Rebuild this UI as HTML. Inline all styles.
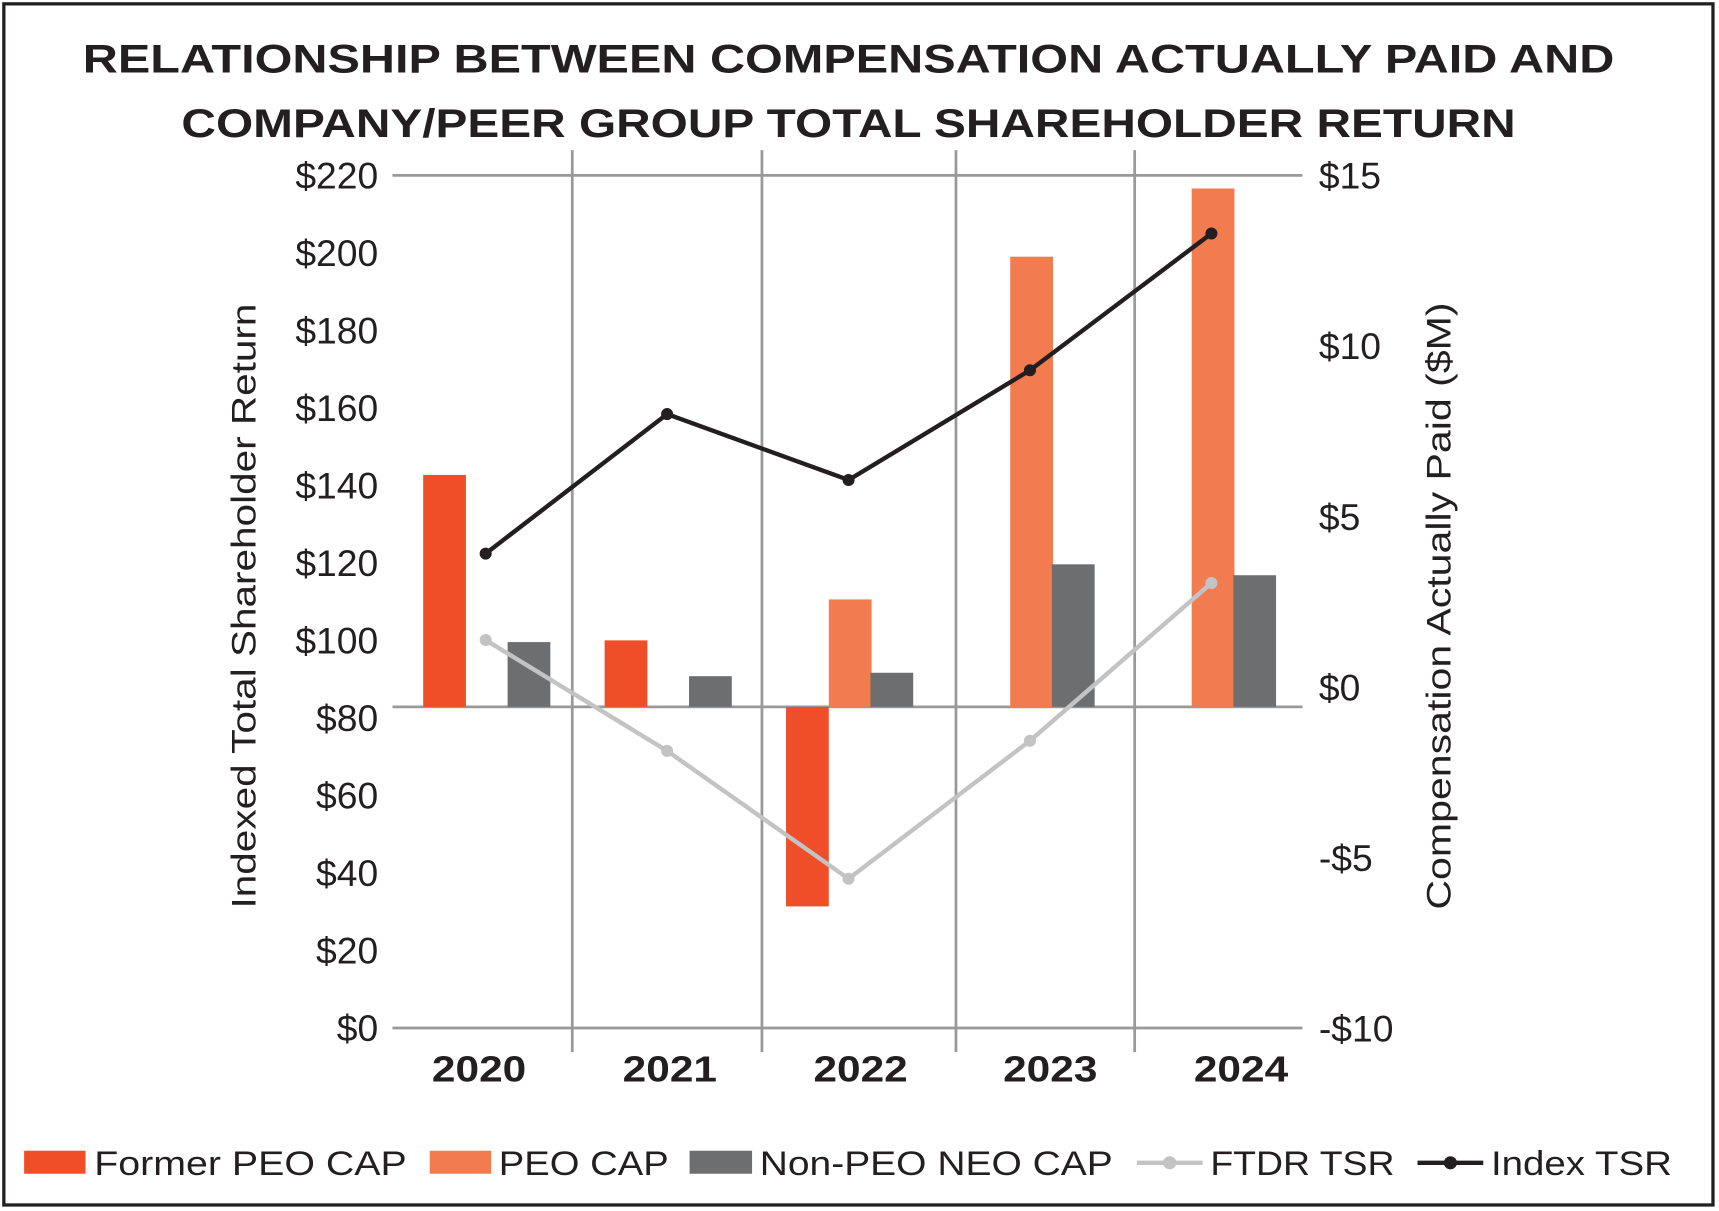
<!DOCTYPE html>
<html><head><meta charset="utf-8"><style>
html,body{margin:0;padding:0;background:#fff;}
svg{display:block;font-family:"Liberation Sans",sans-serif;}
</style></head><body>
<svg id="chart" width="1719" height="1211" viewBox="0 0 1568 1105" preserveAspectRatio="none">
<rect x="3.5" y="3.5" width="1559" height="1096" fill="#fff" stroke="#231f20" stroke-width="3"/>
<text x="774" y="66" text-anchor="middle" font-size="36" font-weight="bold" fill="#231f20" textLength="1397" lengthAdjust="spacingAndGlyphs">RELATIONSHIP BETWEEN COMPENSATION ACTUALLY PAID AND</text>
<text x="774" y="125" text-anchor="middle" font-size="36" font-weight="bold" fill="#231f20" textLength="1217" lengthAdjust="spacingAndGlyphs">COMPANY/PEER GROUP TOTAL SHAREHOLDER RETURN</text>
<g id="grid"></g>
<g id="bars"></g>
<g id="lines"></g>
<g id="axes"></g>
<text transform="translate(233,553) rotate(-90)" text-anchor="middle" font-size="31" fill="#231f20" textLength="552" lengthAdjust="spacingAndGlyphs">Indexed Total Shareholder Return</text>
<text transform="translate(1323,553) rotate(-90)" text-anchor="middle" font-size="31" fill="#231f20" textLength="554" lengthAdjust="spacingAndGlyphs">Compensation Actually Paid ($M)</text>
<g font-size="31" fill="#231f20">
  <rect x="22" y="1050" width="56" height="21" fill="#ef4e28"/>
  <text x="86" y="1072" textLength="285" lengthAdjust="spacingAndGlyphs">Former PEO CAP</text>
  <rect x="392" y="1050" width="56" height="21" fill="#f27b4f"/>
  <text x="455" y="1072" textLength="155" lengthAdjust="spacingAndGlyphs">PEO CAP</text>
  <rect x="629" y="1050" width="57" height="21" fill="#6d6e70"/>
  <text x="693" y="1072" textLength="322" lengthAdjust="spacingAndGlyphs">Non-PEO NEO CAP</text>
  <line x1="1037" y1="1061" x2="1097" y2="1061" stroke="#c2c3c5" stroke-width="4"/>
  <circle cx="1067" cy="1061" r="6" fill="#c2c3c5"/>
  <text x="1104" y="1072" textLength="168" lengthAdjust="spacingAndGlyphs">FTDR TSR</text>
  <line x1="1293" y1="1061" x2="1353" y2="1061" stroke="#231f20" stroke-width="4"/>
  <circle cx="1323" cy="1061" r="6" fill="#231f20"/>
  <text x="1360" y="1072" textLength="165" lengthAdjust="spacingAndGlyphs">Index TSR</text>
</g>
</svg>
<script>
const categories = ['2020','2021','2022','2023','2024'];
const formerPeoCap = [6.8, 1.95, -5.85, null, null];
const peoCap = [null, null, 3.15, 13.2, 15.2];
const nonPeoNeoCap = [1.9, 0.9, 1.0, 4.18, 3.86];
const ftdrTsr = [100.1, 71.5, 38.5, 74.1, 114.8];
const indexTsr = [122.4, 158.4, 141.4, 169.7, 205.0];
const leftTicks = [0,20,40,60,80,100,120,140,160,180,200,220];
const rightTicks = [-10,-5,0,5,10,15];
const rightTickLabels = ['-$10','-$5','$0','$5','$10','$15'];

const NS='http://www.w3.org/2000/svg';
function mk(tag, attrs, parent, text){const e=document.createElementNS(NS,tag);for(const k in attrs)e.setAttribute(k,attrs[k]);if(text!==undefined)e.textContent=text;parent.appendChild(e);return e;}
const plotL=358, plotR=1188, plotTop=160, plotBottom=938;
const yL = v => plotBottom - v/220*(plotBottom-plotTop);
const pxPerM = (plotBottom-plotTop)/25;
const yR = v => 645 - v*pxPerM;
const yRlabel = v => 627 - v*pxPerM;
const xC = i => 443 + i*165.5;

const grid=document.getElementById('grid'), bars=document.getElementById('bars'), lines=document.getElementById('lines'), axes=document.getElementById('axes');
[522,695,872,1035].forEach((x)=>{
  const l=mk('line',{x1:x,y1:137,x2:x,y2:960,stroke:'#98999b','stroke-width':2.5},grid);
  
  
});
const tl=mk('line',{x1:plotL,y1:yL(220),x2:plotR,y2:yL(220),stroke:'#98999b','stroke-width':2.5},grid);


const bl=mk('line',{x1:plotL,y1:yL(0),x2:plotR,y2:yL(0),stroke:'#98999b','stroke-width':2.5},grid);


const zl=mk('line',{x1:plotL,y1:yR(0),x2:plotR,y2:yR(0),stroke:'#98999b','stroke-width':2.5},grid);



leftTicks.forEach(v=>{
  const t=mk('text',{x:345,y:yL(v)+12,'text-anchor':'end','font-size':34,fill:'#231f20'},axes,'$'+v);
  
  
});
rightTicks.forEach((v,i)=>{
  const t=mk('text',{x:1203,y:yRlabel(v)+12,'font-size':34,fill:'#231f20'},axes,rightTickLabels[i]);
  
  
});
const labelX=[437,611,785,958,1132];
categories.forEach((c,i)=>{
  const t=mk('text',{x:labelX[i],y:987,'text-anchor':'middle','font-size':33,'font-weight':'bold',fill:'#231f20',textLength:86,lengthAdjust:'spacingAndGlyphs'},axes,c);
  
  
});

function drawBars(arr, off, color, name){
  arr.forEach((v,i)=>{
    if(v===null) return;
    const y0=yR(0), y1=yR(v);
    const r=mk('rect',{x:xC(i)+off,y:Math.min(y0,y1),width:39,height:Math.abs(y1-y0),fill:color},bars);
    
    
  });
}
drawBars(formerPeoCap,-57,'#ef4e28','former-peo-cap');
drawBars(peoCap,-18,'#f27b4f','peo-cap');
drawBars(nonPeoNeoCap,20,'#6d6e70','non-peo-neo-cap');

function drawLine(arr,color,name){
  const pts=arr.map((v,i)=>xC(i)+','+yL(v)).join(' ');
  const p=mk('polyline',{points:pts,fill:'none',stroke:color,'stroke-width':4,'stroke-linejoin':'round'},lines);
  
  
  arr.forEach((v,i)=>{
    const c=mk('circle',{cx:xC(i),cy:yL(v),r:5.5,fill:color},lines);
    
    
  });
}
drawLine(ftdrTsr,'#c2c3c5','ftdr-tsr');
drawLine(indexTsr,'#231f20','index-tsr');
</script>
</body></html>
